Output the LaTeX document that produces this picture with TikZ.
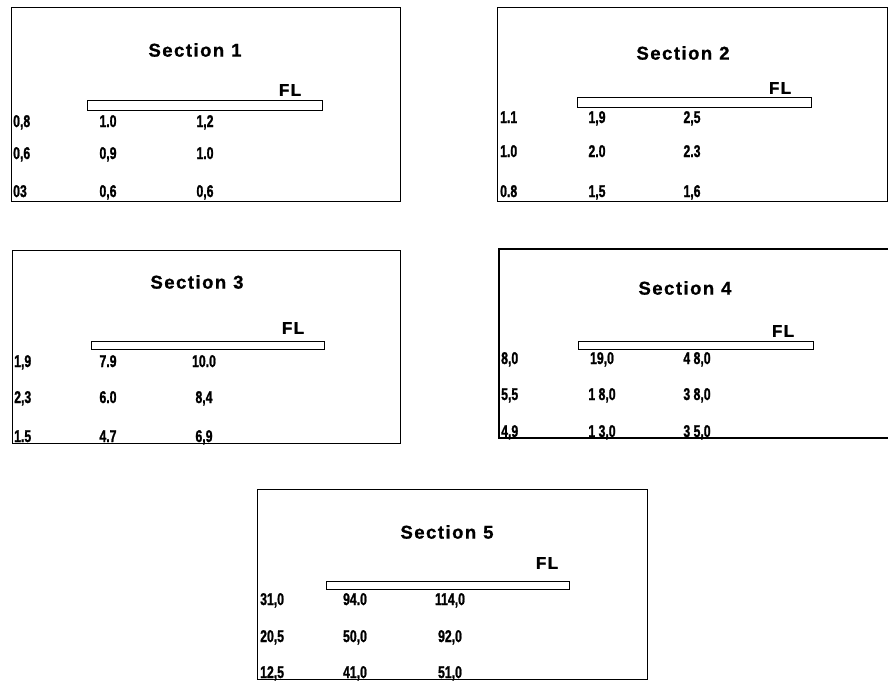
\documentclass[tikz,border=0pt]{standalone}
\usepackage{fontspec}
\setmainfont{Liberation Sans}
\newfontfamily\titlefont[LetterSpace=8,FakeBold=1]{Liberation Sans}
\newfontfamily\numfont[FakeStretch=0.72,FakeBold=1.2]{Liberation Sans}
\tikzset{
  secbox/.style={draw, line width=1.3pt, inner sep=0pt, anchor=north west},
  sectitle/.style={font=\titlefont\bfseries\fontsize{18.5}{20}\selectfont, inner sep=0pt},
  fl/.style={font=\titlefont\bfseries\fontsize{17}{18}\selectfont, inner sep=0pt},
  val/.style={font=\numfont\bfseries\fontsize{17}{18}\selectfont, inner sep=0pt, anchor=base},
  rowlab/.style={val, anchor=base west},
  bar/.style={draw, line width=1pt, fill=white, inner sep=0pt, anchor=north west},
}
\begin{document}
\begin{tikzpicture}[x=1pt,y=-1pt]
\useasboundingbox (0,0) rectangle (888,681);
% Section 1
\begin{scope}[shift={(11,7)}]
  \node[secbox, minimum width=389pt, minimum height=194pt] (s1) at (0,0) {};
  \node[sectitle] (s1t) at (184,43) {Section\hspace{7pt}1};
  \node[fl] (s1fl) at (279,83) {FL};
  \node[bar, minimum width=235pt, minimum height=10pt] (s1bar) at (76,93) {};
  \node[rowlab] (s1r1) at (2,120) {0,8};
  \node[val] (s1a1) at (97,120) {1.0};
  \node[val] (s1b1) at (194,120) {1,2};
  \node[rowlab] (s1r2) at (2,152) {0,6};
  \node[val] (s1a2) at (97,152) {0,9};
  \node[val] (s1b2) at (194,152) {1.0};
  \node[rowlab] (s1r3) at (2,190) {03};
  \node[val] (s1a3) at (97,190) {0,6};
  \node[val] (s1b3) at (194,190) {0,6};
\end{scope}
% Section 2
\begin{scope}[shift={(497,7)}]
  \node[secbox, minimum width=390pt, minimum height=194pt] (s2) at (0,0) {};
  \node[sectitle] (s2t) at (186,46) {Section\hspace{7pt}2};
  \node[fl] (s2fl) at (283,81) {FL};
  \node[bar, minimum width=234pt, minimum height=10pt] (s2bar) at (80,90) {};
  \node[rowlab] (s2r1) at (3,116) {1.1};
  \node[val] (s2a1) at (100,116) {1,9};
  \node[val] (s2b1) at (195,116) {2,5};
  \node[rowlab] (s2r2) at (3,150) {1.0};
  \node[val] (s2a2) at (100,150) {2.0};
  \node[val] (s2b2) at (195,150) {2.3};
  \node[rowlab] (s2r3) at (3,190) {0.8};
  \node[val] (s2a3) at (100,190) {1,5};
  \node[val] (s2b3) at (195,190) {1,6};
\end{scope}
% Section 3
\begin{scope}[shift={(12,250)}]
  \node[secbox, minimum width=388pt, minimum height=193pt] (s3) at (0,0) {};
  \node[sectitle] (s3t) at (185,32) {Section\hspace{7pt}3};
  \node[fl] (s3fl) at (281,78) {FL};
  \node[bar, minimum width=233pt, minimum height=8pt] (s3bar) at (79,91) {};
  \node[rowlab] (s3r1) at (2,117) {1,9};
  \node[val] (s3a1) at (96,117) {7.9};
  \node[val] (s3b1) at (192,117) {10.0};
  \node[rowlab] (s3r2) at (2,153) {2,3};
  \node[val] (s3a2) at (96,153) {6.0};
  \node[val] (s3b2) at (192,153) {8,4};
  \node[rowlab] (s3r3) at (2,192) {1.5};
  \node[val] (s3a3) at (96,192) {4.7};
  \node[val] (s3b3) at (192,192) {6,9};
\end{scope}
% Section 4 (open on the right)
\begin{scope}[shift={(499,249)}]
  \draw[line width=1.3pt] (389,0) -- (0,0) -- (0,189) -- (389,189);
  \coordinate (s4) at (0,0);
  \node[sectitle] (s4t) at (186,39) {Section\hspace{7pt}4};
  \node[fl] (s4fl) at (284,82) {FL};
  \node[bar, minimum width=235pt, minimum height=8pt] (s4bar) at (79,92) {};
  \node[rowlab] (s4r1) at (2,115) {8,0};
  \node[val] (s4a1) at (103,115) {19,0};
  \node[val] (s4b1) at (198,115) {4 8,0};
  \node[rowlab] (s4r2) at (2,151) {5,5};
  \node[val] (s4a2) at (103,151) {1 8,0};
  \node[val] (s4b2) at (198,151) {3 8,0};
  \node[rowlab] (s4r3) at (2,188) {4,9};
  \node[val] (s4a3) at (103,188) {1 3,0};
  \node[val] (s4b3) at (198,188) {3 5,0};
\end{scope}
% Section 5
\begin{scope}[shift={(257,489)}]
  \node[secbox, minimum width=390pt, minimum height=190pt] (s5) at (0,0) {};
  \node[sectitle] (s5t) at (190,43) {Section\hspace{7pt}5};
  \node[fl] (s5fl) at (290,74) {FL};
  \node[bar, minimum width=243pt, minimum height=8pt] (s5bar) at (69,92) {};
  \node[rowlab] (s5r1) at (3,116) {31,0};
  \node[val] (s5a1) at (98,116) {94.0};
  \node[val] (s5b1) at (193,116) {114,0};
  \node[rowlab] (s5r2) at (3,153) {20,5};
  \node[val] (s5a2) at (98,153) {50,0};
  \node[val] (s5b2) at (193,153) {92,0};
  \node[rowlab] (s5r3) at (3,189) {12,5};
  \node[val] (s5a3) at (98,189) {41,0};
  \node[val] (s5b3) at (193,189) {51,0};
\end{scope}
\end{tikzpicture}
\end{document}
